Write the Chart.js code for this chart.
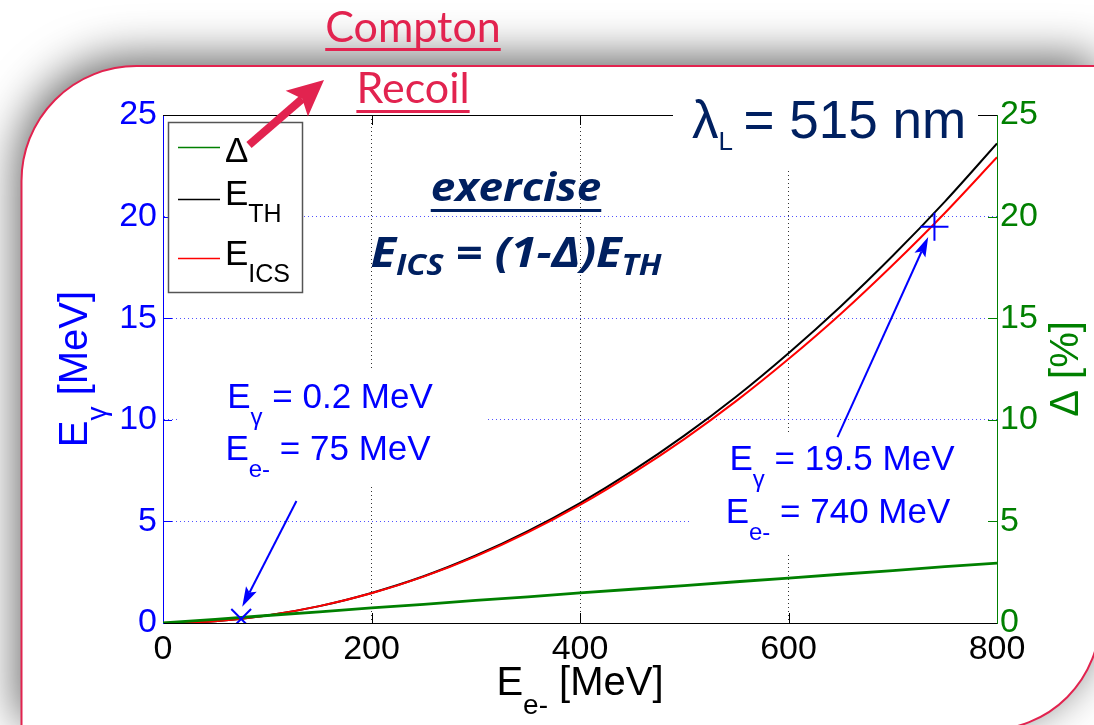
<!DOCTYPE html>
<html>
<head>
<meta charset="utf-8">
<script src="https://cdn.jsdelivr.net/npm/chart.js@4.4.1/dist/chart.umd.min.js"></script>
<style>
  html, body { margin: 0; padding: 0; background: #fff; overflow: hidden; }
  #plot { display: block; }
</style>
</head>
<body>
<canvas id="plot" width="1094" height="725"></canvas>
<script>
// electron beam energy [MeV]
const energies = [0, 50, 100, 150, 200, 250, 300, 350, 400, 450, 500, 550, 600, 650, 700, 750, 800];
// Thomson photon energy [MeV]
const eTh = [0, 0.09, 0.37, 0.83, 1.48, 2.30, 3.32, 4.52, 5.90, 7.47, 9.22, 11.15, 13.28, 15.58, 18.07, 20.74, 23.60];
// inverse Compton photon energy [MeV]
const eIcs = [0, 0.09, 0.37, 0.83, 1.46, 2.28, 3.28, 4.46, 5.81, 7.35, 9.05, 10.93, 12.99, 15.21, 17.62, 20.18, 22.92];
// recoil correction [%]
const deltaPct = [0, 0.18, 0.37, 0.55, 0.74, 0.92, 1.11, 1.29, 1.48, 1.66, 1.84, 2.03, 2.21, 2.40, 2.58, 2.77, 2.95];
// marked working points
const markEe = [75, 740];
const markEg = [0.2, 19.5];

const FONT = '"Liberation Sans", Arial, Helvetica, sans-serif';
const OS = '"Open Sans", sans-serif';
const NAVY = '#002060';
const PINK = '#e2234f';
const BLUE = '#0000ff';
const GREEN = '#008000';

const pts = ys => energies.map((e, i) => ({ x: e, y: ys[i] }));

function line(ctx, x1, y1, x2, y2) {
  ctx.beginPath(); ctx.moveTo(x1, y1); ctx.lineTo(x2, y2); ctx.stroke();
}

// draws runs of text with optional subscripts: [text, size, dy, family]
// sx stretches the whole run horizontally
function rich(ctx, parts, x, y, align, sx) {
  sx = sx || 1;
  let w = 0;
  parts.forEach(p => { ctx.font = p[1] + 'px ' + (p[3] || FONT); w += ctx.measureText(p[0]).width; });
  ctx.save();
  ctx.translate(align === 'center' ? x - w * sx / 2 : x, y);
  ctx.scale(sx, 1);
  ctx.textAlign = 'left';
  ctx.textBaseline = 'alphabetic';
  let cx = 0;
  parts.forEach(p => {
    ctx.font = p[1] + 'px ' + (p[3] || FONT);
    ctx.fillText(p[0], cx, p[2] || 0);
    cx += ctx.measureText(p[0]).width;
  });
  ctx.restore();
  return w * sx;
}

function arrowHead(ctx, x1, y1, x2, y2, len, half) {
  const d = Math.hypot(x2 - x1, y2 - y1);
  const ux = (x2 - x1) / d, uy = (y2 - y1) / d;
  const bx = x2 - ux * len, by = y2 - uy * len;
  ctx.beginPath();
  ctx.moveTo(x2, y2);
  ctx.lineTo(bx - uy * half, by + ux * half);
  ctx.lineTo(x2 - ux * len * 0.8, y2 - uy * len * 0.8);
  ctx.lineTo(bx + uy * half, by - ux * half);
  ctx.closePath();
  ctx.fill();
  return [x2 - ux * len * 0.8, y2 - uy * len * 0.8];
}

// slide card with rounded diagonal corners
function cardPath(ctx) {
  ctx.beginPath();
  ctx.moveTo(21.5, 740);
  ctx.lineTo(21.5, 182);
  ctx.arcTo(21.5, 66, 136.5, 66, 115);
  ctx.lineTo(1100, 66);
  ctx.lineTo(1100, 617);
  ctx.arcTo(1100, 730, 987, 730, 112);
  ctx.lineTo(21.5, 730);
  ctx.closePath();
}

const frame = {
  id: 'frame',
  beforeDraw(chart) {
    const ctx = chart.ctx;
    ctx.save();
    ctx.fillStyle = '#fff';
    ctx.fillRect(0, 0, chart.width, chart.height);
    cardPath(ctx);
    ctx.shadowColor = 'rgba(0,0,0,0.62)';
    ctx.shadowBlur = 46;
    ctx.shadowOffsetX = -4;
    ctx.shadowOffsetY = -8;
    ctx.fillStyle = '#fff';
    ctx.fill();
    ctx.shadowColor = 'rgba(0,0,0,0)';
    ctx.lineWidth = 2;
    ctx.strokeStyle = PINK;
    ctx.stroke();
    ctx.restore();
  }
};

// arrows from the notes to the marked points (data units)
const noteArrows = [
  { from: [128, 6.0], to: [markEe[0] + 1, markEg[0] + 0.6] },
  { from: [647, 9.15], to: [markEe[1] - 6, markEg[1] - 0.5] }
];

const deco = {
  id: 'deco',
  beforeDatasetsDraw(chart) {
    const { ctx, chartArea: a, scales: { x, y } } = chart;
    ctx.save();
    ctx.lineWidth = 1;
    ctx.strokeStyle = '#000';
    line(ctx, a.left, a.top + 0.5, a.right, a.top + 0.5);
    [200, 400, 600].forEach(v => {
      const px = Math.round(x.getPixelForValue(v)) + 0.5;
      line(ctx, px, a.bottom, px, a.bottom - 10);
      line(ctx, px, a.top, px, a.top + 10);
    });
    [5, 10, 15, 20].forEach(v => {
      const py = Math.round(y.getPixelForValue(v)) + 0.5;
      ctx.strokeStyle = BLUE; line(ctx, a.left, py, a.left + 9, py);
      ctx.strokeStyle = GREEN; line(ctx, a.right, py, a.right - 9, py);
    });
    // white backing behind the text blocks
    ctx.fillStyle = '#fff';
    ctx.fillRect(673, 78, 305, 92);
    ctx.fillRect(180, 370, 307, 117);
    ctx.fillRect(692, 433, 294, 119);
    ctx.restore();
  },
  afterDatasetsDraw(chart) {
    const { ctx, scales: { x, y } } = chart;
    ctx.save();

    // legend
    ctx.fillStyle = '#fff';
    ctx.fillRect(168.5, 122.5, 134, 170);
    ctx.strokeStyle = '#555';
    ctx.lineWidth = 1.5;
    ctx.strokeRect(168.5, 122.5, 134, 170);
    [[GREEN, 147], ['#000', 199], ['#ff0000', 258]].forEach(([c, ly]) => {
      ctx.strokeStyle = c; line(ctx, 178, ly + 0.5, 220, ly + 0.5);
    });
    ctx.fillStyle = '#000';
    rich(ctx, [['\u0394', 35]], 225, 162, 'left');
    rich(ctx, [['E', 35], ['TH', 25, 17]], 225, 205, 'left');
    rich(ctx, [['E', 35], ['ICS', 25, 17]], 225, 265, 'left');

    // note arrows
    ctx.strokeStyle = BLUE;
    ctx.fillStyle = BLUE;
    ctx.lineWidth = 2;
    noteArrows.forEach(n => {
      const x1 = x.getPixelForValue(n.from[0]), y1 = y.getPixelForValue(n.from[1]);
      const x2 = x.getPixelForValue(n.to[0]), y2 = y.getPixelForValue(n.to[1]);
      const b = arrowHead(ctx, x1, y1, x2, y2, 20, 6);
      line(ctx, x1, y1, b[0], b[1]);
    });

    // notes
    ctx.fillStyle = BLUE;
    rich(ctx, [['E', 35], ['\u03b3', 24, 17], [' = ' + markEg[0] + ' MeV', 35]], 330, 408, 'center');
    rich(ctx, [['E', 35], ['e-', 24, 17], [' = ' + markEe[0] + ' MeV', 35]], 328, 460, 'center');
    rich(ctx, [['E', 35], ['\u03b3', 24, 17], [' = ' + markEg[1] + ' MeV', 35]], 842, 470, 'center');
    rich(ctx, [['E', 35], ['e-', 24, 17], [' = ' + markEe[1] + ' MeV', 35]], 838, 523, 'center');

    // laser wavelength
    ctx.fillStyle = NAVY;
    rich(ctx, [['\u03bb', 53], ['L', 26, 12], ['\u2009= 515 nm', 53]], 692, 138, 'left');

    // exercise box
    const bi = 'italic bold ';
    const ew = rich(ctx, [['exercise', bi + '40', 0, OS]], 516, 201, 'center', 1.1);
    ctx.fillRect(516 - ew / 2, 209, ew, 3);
    rich(ctx, [['E', bi + '42', 0, OS], ['ICS', bi + '29', 8, OS], [' = (1-\u0394)E', bi + '42', 0, OS], ['TH', bi + '29', 8, OS]], 516, 267, 'center', 1.12);

    ctx.restore();
  },
  afterDraw(chart) {
    const ctx = chart.ctx;
    ctx.save();
    // axis titles
    ctx.fillStyle = '#000';
    rich(ctx, [['E', 40], ['e-', 28, 19], [' [MeV]', 40]], 580, 695, 'center');
    ctx.fillStyle = BLUE;
    ctx.translate(87, 369);
    ctx.rotate(-Math.PI / 2);
    rich(ctx, [['E', 40], ['\u03b3', 28, 19], [' [MeV]', 40]], 0, 0, 'center');
    ctx.restore();
    ctx.save();
    ctx.fillStyle = GREEN;
    ctx.translate(1078, 369);
    ctx.rotate(-Math.PI / 2);
    rich(ctx, [['\u0394 [%]', 40]], 0, 0, 'center');
    ctx.restore();

    // heading
    ctx.save();
    ctx.fillStyle = PINK;
    ctx.textAlign = 'center';
    ctx.textBaseline = 'alphabetic';
    ctx.font = '43px Lato, "Open Sans", sans-serif';
    ctx.fillText('Compton', 413, 42);
    let w = ctx.measureText('Compton').width;
    ctx.fillRect(413 - w / 2, 48, w, 3);
    ctx.fillText('Recoil', 413, 103);
    w = ctx.measureText('Recoil').width;
    ctx.fillRect(413 - w / 2, 110, w, 3);
    // pointer arrow
    ctx.strokeStyle = PINK;
    ctx.lineWidth = 8;
    const b = arrowHead(ctx, 249, 145, 324, 80, 36, 17);
    line(ctx, 249, 145, b[0], b[1]);
    ctx.restore();
  }
};

const tickFont = { family: FONT, size: 34 };
const inner = (v, hi) => v > 0 && v < hi;

new Chart(document.getElementById('plot'), {
  type: 'line',
  data: {
    datasets: [
      {
        label: 'marks',
        data: markEe.map((e, i) => ({ x: e, y: markEg[i] })),
        showLine: false,
        pointStyle: ['crossRot', 'cross'],
        pointRadius: 14,
        borderColor: BLUE,
        borderWidth: 2,
        order: -1
      },
      { label: '\u0394', data: pts(deltaPct), yAxisID: 'y2', borderColor: GREEN, borderWidth: 2.8, pointRadius: 0, order: 0 },
      { label: 'E_ICS', data: pts(eIcs), borderColor: '#ff0000', borderWidth: 2, pointRadius: 0, cubicInterpolationMode: 'monotone', order: 1 },
      { label: 'E_TH', data: pts(eTh), borderColor: '#000', borderWidth: 2, pointRadius: 0, cubicInterpolationMode: 'monotone', order: 2 }
    ]
  },
  options: {
    responsive: false,
    animation: false,
    events: [],
    layout: { padding: { top: 115, left: 0, right: 0, bottom: 0 } },
    plugins: { legend: { display: false }, tooltip: { enabled: false } },
    scales: {
      x: {
        type: 'linear', position: 'bottom', min: 0, max: 800,
        afterFit: s => { s.height = 102; },
        ticks: { stepSize: 200, color: '#000', font: tickFont, padding: 6, maxRotation: 0 },
        grid: { drawTicks: false, lineWidth: 1, color: c => (c.tick && inner(c.tick.value, 800)) ? 'rgba(0,0,0,0.8)' : 'rgba(0,0,0,0)' },
        border: { color: '#000', width: 1, dash: [1, 3] }
      },
      y: {
        type: 'linear', position: 'left', min: 0, max: 25,
        afterFit: s => { s.width = 163; },
        ticks: { stepSize: 5, color: BLUE, font: tickFont, padding: 6 },
        grid: { drawTicks: false, lineWidth: 1, color: c => (c.tick && inner(c.tick.value, 25)) ? 'rgba(50,50,255,0.85)' : 'rgba(0,0,0,0)' },
        border: { color: BLUE, width: 1, dash: [1, 3] }
      },
      y2: {
        type: 'linear', position: 'right', min: 0, max: 25,
        afterFit: s => { s.width = 97; },
        ticks: { stepSize: 5, color: GREEN, font: tickFont, padding: 3 },
        grid: { drawOnChartArea: false, drawTicks: false },
        border: { color: GREEN, width: 1 }
      }
    }
  },
  plugins: [frame, deco]
});
</script>
</body>
</html>
